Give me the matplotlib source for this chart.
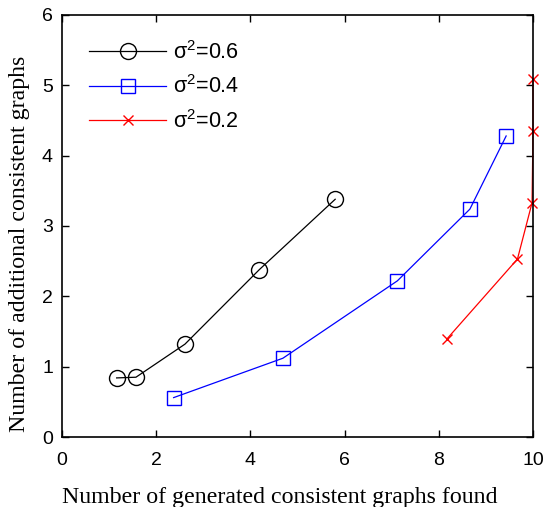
import matplotlib
matplotlib.use("Agg")
import matplotlib.pyplot as plt

plt.rcParams['mathtext.fontset'] = 'custom'
plt.rcParams['mathtext.rm'] = 'Liberation Sans'
plt.rcParams['mathtext.it'] = 'Liberation Sans:italic'
plt.rcParams['font.family'] = ['Liberation Sans', 'DejaVu Sans']

# data
x06 = [1.16, 1.57, 2.61, 4.19, 5.80]
y06 = [0.84, 0.85, 1.32, 2.38, 3.38]
x04 = [2.37, 4.69, 7.12, 8.66, 9.43]
y04 = [0.56, 1.12, 2.22, 3.24, 4.28]
x02 = [8.18, 9.67, 9.98, 10.0, 10.0]
y02 = [1.40, 2.53, 3.33, 4.35, 5.09]
labels = [r'$\mathregular{σ^2}$=0.6', r'$\mathregular{σ^2}$=0.4', r'$\mathregular{σ^2}$=0.2']
xticks = [0, 2, 4, 6, 8, 10]
yticks = [0, 1, 2, 3, 4, 5, 6]

fig = plt.figure(figsize=(5.53, 5.07), dpi=100)
ax = fig.add_axes([62/553, 1-437/507, 471/553, 422/507])

ax.plot(x06, y06, color='black', lw=0.9, marker='o', ms=11.5, mfc='none', mew=1.0, label=labels[0], clip_on=False)
ax.plot(x04, y04, color='blue', lw=0.9, marker='s', ms=9.5, mfc='none', mew=1.0, label=labels[1], clip_on=False)
ax.plot(x02, y02, color='red', lw=0.9, marker='x', ms=7.8, mew=1.0, label=labels[2], clip_on=False)

ax.set_xlim(0, 10)
ax.set_ylim(0, 6)
ax.set_xticks(xticks)
ax.set_yticks(yticks)
ax.tick_params(direction='in', top=True, right=True, length=5, width=1, labelsize=14)
ax.tick_params(axis='x', pad=11)
ax.tick_params(axis='y', pad=6.5)
for s in ax.spines.values():
    s.set_linewidth(1.2)

ax.set_xlabel('Number of generated consistent graphs found', family='Liberation Serif', fontsize=17.2)
ax.set_ylabel('Number of additional consistent graphs', family='Liberation Serif', fontsize=17.2)
ax.xaxis.set_label_coords(0.462, -0.118)
ax.yaxis.set_label_coords(-0.068, 0.4585)

leg = ax.legend(loc='upper left', frameon=False, fontsize=15.5, handlelength=3.58, handletextpad=0.33,
                labelspacing=0.53, borderaxespad=0, borderpad=0,
                bbox_to_anchor=((89-62)/471, (437-41)/422))

fig.savefig('out.png', dpi=100)
